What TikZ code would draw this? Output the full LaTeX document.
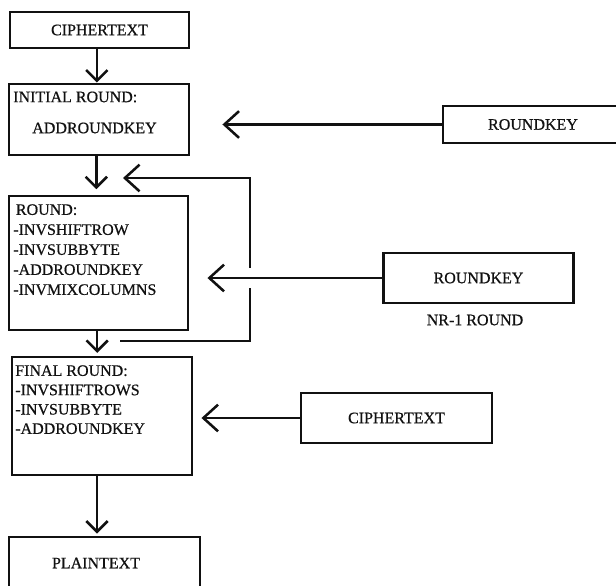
\documentclass[tikz,border=0pt]{standalone}
\usepackage{fontspec}
\setmainfont{Liberation Serif}[FakeBold=0.6]
\usetikzlibrary{arrows.meta,positioning,calc}
\def\px{0.75pt}
\def\wBox{2.2pt}
\def\wLine{1.9pt}
\definecolor{cInk}{HTML}{111111}
\tikzset{
  diag/.style={font=\fontsize{12}{15}\selectfont, x=\px, y=-\px},
  blk/.style={draw=cInk, line width=\wBox, inner sep=0pt, text=cInk},
  lbl/.style={inner sep=0pt, align=left, text=cInk},
  down/.style={draw=cInk, line width=\wLine, -{Straight Barb[length=8pt, width=16pt]}},
  feed/.style={draw=cInk, line width=\wLine, -{Straight Barb[length=11pt, width=20pt]}},
}

\begin{document}
\begin{tikzpicture}[diag]
% reference pixel grid: x to the right, y downwards
\useasboundingbox (0,0) rectangle (616,585);
% left column: the decryption steps
\node[blk, minimum width=179*\px, minimum height=36*\px] (ct) at (99.5,30) {CIPHERTEXT};
\node[blk, minimum width=180*\px, minimum height=71*\px] (init) at (99,119.5) {};
\node[lbl, anchor=west] (initT) at (13,97) {INITIAL ROUND:};
\node[lbl] (initK) at (94.5,128) {ADDROUNDKEY};
\node[blk, minimum width=179*\px, minimum height=134*\px] (rnd) at (98.5,263) {};
\node[lbl, anchor=north west] (rndT) at (13,204)
  {\hspace*{2pt}ROUND:\\-INVSHIFTROW\\-INVSUBBYTE\\-ADDROUNDKEY\\-INVMIXCOLUMNS};
\node[blk, minimum width=180*\px, minimum height=118*\px] (fin) at (102,416) {};
\node[lbl, anchor=north west, font=\fontsize{12}{14.5}\selectfont] (finT) at (15,365)
  {FINAL ROUND:\\-INVSHIFTROWS\\-INVSUBBYTE\\-ADDROUNDKEY};
\node[blk, minimum width=191*\px, minimum height=52*\px] (pt) at (104.5,563) {};
\node[lbl] (ptT) at (96,563) {PLAINTEXT};
% right column: key and input feeds
\node[blk, minimum width=180*\px, minimum height=37*\px] (rk1) at (533,124.5) {ROUNDKEY};
\node[blk, minimum width=190*\px, minimum height=50*\px] (rk2) at (478.5,278) {ROUNDKEY};
\node[lbl] (nr) at (475,320) {NR-1 ROUND};
\node[blk, minimum width=191*\px, minimum height=50*\px] (ct2) at (396.5,418) {CIPHERTEXT};
% main flow
\draw[down] ([xshift=-2pt]ct.south) -- ([xshift=-2pt]ct.south |- init.north);
\draw[down, shorten >=4pt] ([xshift=-2pt]init.south) -- ([xshift=-2pt]init.south |- rnd.north);
\draw[down, shorten >=2pt] ([xshift=-1pt]rnd.south) -- ([xshift=-1pt]rnd.south |- fin.north);
\draw[down, shorten >=1.5pt] ([xshift=-3.75pt]fin.south) -- ([xshift=-3.75pt]fin.south |- pt.north);
% repeat loop
\coordinate (lpA) at (120,341);
\coordinate (lpB) at (123,178);
\draw[feed] (lpA) -- ++(130,0) |- (lpB);
% feeds
\draw[feed, shorten >=24pt] (rk1.west) -- (rk1.west -| init.east);
\draw[feed, shorten >=13.5pt, preaction={draw=white, line width=15pt, -, shorten <=22pt, shorten >=30pt}]
  (rk2.west) -- (rk2.west -| rnd.east);
\draw[feed, shorten >=6pt] (ct2.west) -- (ct2.west -| fin.east);
\end{tikzpicture}
\end{document}
